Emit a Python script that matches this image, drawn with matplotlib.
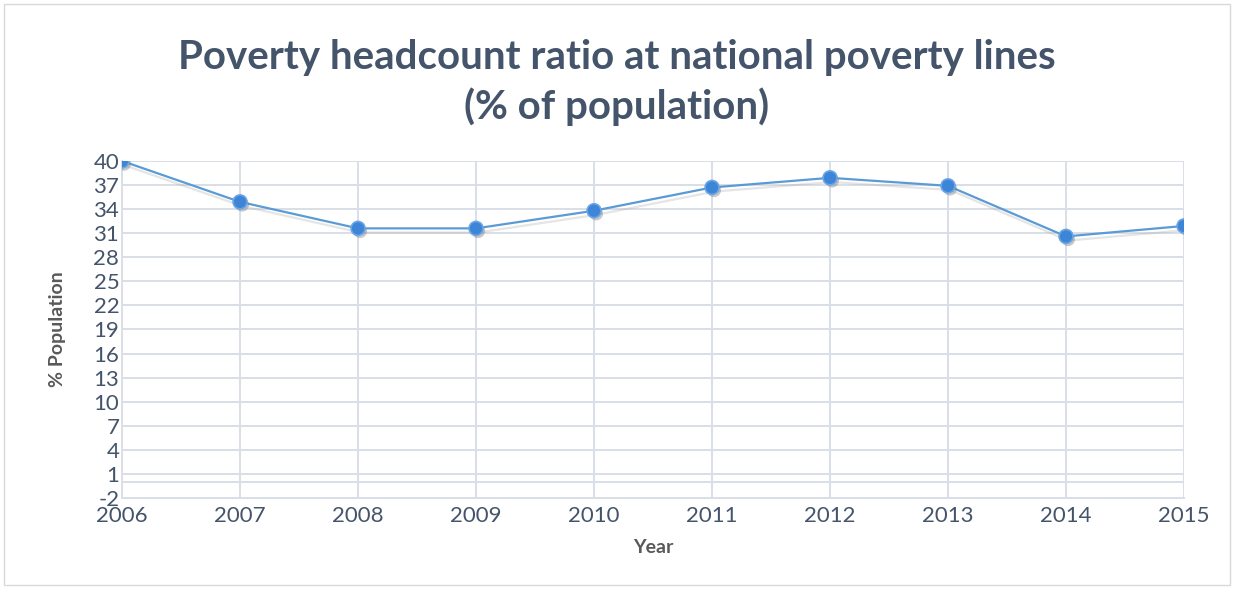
import matplotlib
matplotlib.use("Agg")
import matplotlib.pyplot as plt
from matplotlib.patches import Rectangle
import matplotlib.patheffects as pe

years = [2006, 2007, 2008, 2009, 2010, 2011, 2012, 2013, 2014, 2015]
poverty = [40.0, 34.9, 31.6, 31.6, 33.8, 36.7, 37.9, 36.9, 30.6, 31.9]
yticks = list(range(-2, 41, 3))

title = "Poverty headcount ratio at national poverty lines\n(% of population)"
text_color = "#44546A"
grid_color = "#D9DEE6"

plt.rcParams['font.family'] = ['Lato', 'DejaVu Sans']
plt.rcParams['axes.unicode_minus'] = False

fig = plt.figure(figsize=(12.34, 5.89), dpi=100)
fig.patches.append(Rectangle((0.003, 0.006), 0.994, 0.988, transform=fig.transFigure,
                             fill=False, edgecolor="#D9D9D9", linewidth=1))
ax = fig.add_axes([0.0989, 0.1545, 0.8606, 0.5722])

ax.plot(years, poverty, color="#5B9BD5", linewidth=1.6, zorder=3,
        path_effects=[pe.SimpleLineShadow(offset=(1.5, -3), shadow_color="#AAAAAA", alpha=0.3),
                      pe.Normal()])
ax.plot(years, poverty, linestyle="none", marker="o", markersize=10,
        markerfacecolor="#3D85D6", markeredgecolor="#6AA5E6", markeredgewidth=1.2, zorder=4,
        path_effects=[pe.SimplePatchShadow(offset=(1.5, -2), shadow_rgbFace="#777777", alpha=0.4),
                      pe.Normal()])

ax.set_xlim(2006, 2015)
ax.set_ylim(-2, 40)
ax.set_yticks(yticks)
ax.set_xticks(years)
ax.grid(True, color=grid_color, linewidth=1.4)
ax.axhline(0, color=grid_color, linewidth=1.4, zorder=1)
ax.set_axisbelow(True)
for s in ["top", "right"]:
    ax.spines[s].set_visible(False)
for s in ["left", "bottom"]:
    ax.spines[s].set_color(grid_color)
    ax.spines[s].set_linewidth(1.4)
ax.tick_params(axis="both", length=0, labelsize=16, colors=text_color, pad=2)
ax.tick_params(axis="x", pad=6)
ax.set_xlabel("Year", fontsize=14, fontweight="bold", color="#595959", labelpad=9)
ax.set_ylabel("% Population", fontsize=14, fontweight="bold", color="#595959", labelpad=20)

fig.text(0.5, 0.86, title, ha="center", va="center", fontsize=29, fontweight="bold",
         color=text_color, linespacing=1.35)

fig.savefig("out.png", dpi=100)
